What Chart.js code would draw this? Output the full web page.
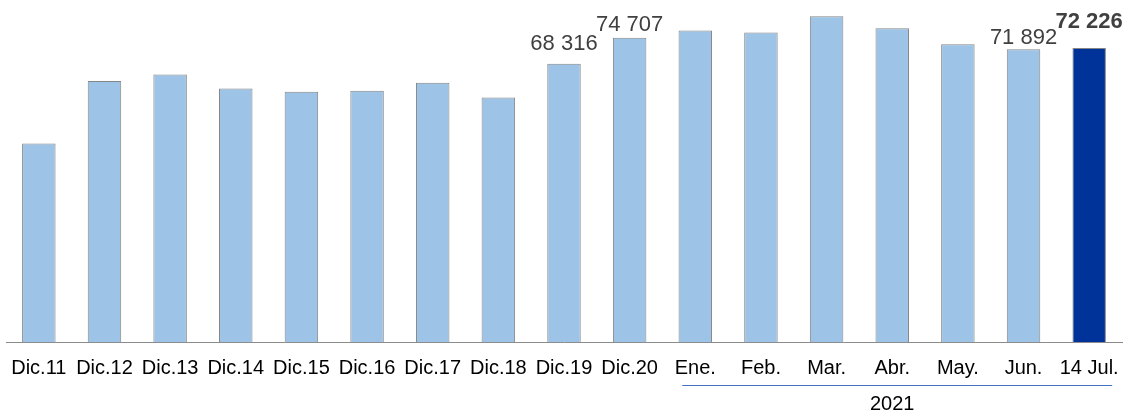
<!DOCTYPE html>
<html>
<head>
<meta charset="utf-8">
<script src="https://cdn.jsdelivr.net/npm/chart.js@4.4.1/dist/chart.umd.min.js"></script>
<style>
  html, body { margin: 0; padding: 0; background: #fff; }
  #wrap { width: 1126px; height: 412px; position: relative; }
</style>
</head>
<body>
<div id="wrap"><canvas id="chart"></canvas></div>
<script>
const categories = ['Dic.11', 'Dic.12', 'Dic.13', 'Dic.14', 'Dic.15', 'Dic.16', 'Dic.17', 'Dic.18', 'Dic.19', 'Dic.20',
                    'Ene.', 'Feb.', 'Mar.', 'Abr.', 'May.', 'Jun.', '14 Jul.'];
const values = [48780, 64080, 65720, 62280, 61450, 61740, 63660, 60070, 68316, 74707,
                76520, 76030, 80030, 77090, 73160, 71892, 72226];
const labelledBars = [8, 9, 15, 16];
const yearLabel = '2021';

const fmt = v => String(v).replace(/\B(?=(\d{3})+(?!\d))/g, ' ');

const barColors = values.map((v, i) => i === values.length - 1 ? '#003399' : '#9dc3e6');

// value labels above a few bars + the 2021 bracket under the months
const extras = {
    id: 'extras',
    afterDatasetsDraw(chart) {
        const ctx = chart.ctx;
        const meta = chart.getDatasetMeta(0);
        const lift = { 8: 20, 9: 13, 15: 11, 16: 26 };
        ctx.save();
        ctx.textAlign = 'center';
        ctx.textBaseline = 'middle';
        labelledBars.forEach(i => {
            const bar = meta.data[i];
            const last = i === values.length - 1;
            ctx.font = (last ? 'bold ' : '') + '22px "Liberation Sans", Arial, sans-serif';
            ctx.fillStyle = '#404040';
            ctx.fillText(fmt(values[i]), bar.x, bar.y - lift[i]);
        });

        const x = chart.scales.x;
        const x0 = x.getPixelForValue(10) - 13;
        const x1 = x.getPixelForValue(16) + 23;
        ctx.strokeStyle = '#4472c4';
        ctx.lineWidth = 1;
        ctx.beginPath();
        ctx.moveTo(x0, 385.5);
        ctx.lineTo(x1, 385.5);
        ctx.stroke();
        ctx.font = '20px "Liberation Sans", Arial, sans-serif';
        ctx.fillStyle = '#000';
        ctx.fillText(yearLabel, (x.getPixelForValue(10) + x.getPixelForValue(16)) / 2, 404);
        ctx.restore();
    }
};

new Chart(document.getElementById('chart'), {
    type: 'bar',
    data: {
        labels: categories,
        datasets: [{
            data: values,
            backgroundColor: barColors,
            borderColor: '#858585',
            borderWidth: 1,
            borderSkipped: 'bottom',
            barPercentage: 0.51,
            categoryPercentage: 1
        }]
    },
    options: {
        responsive: true,
        maintainAspectRatio: false,
        animation: false,
        layout: { padding: { left: 6, right: 4, top: 0, bottom: 30 } },
        plugins: { legend: { display: false }, tooltip: { enabled: false } },
        scales: {
            x: {
                // invisible tick marks give the label gap without the side padding that ticks.padding adds
                grid: { display: true, drawOnChartArea: false, drawTicks: true, tickLength: 12, color: 'rgba(0,0,0,0)' },
                border: { display: true, color: '#8c8c8c', width: 1 },
                ticks: {
                    color: '#000',
                    padding: 2,
                    maxRotation: 0,
                    autoSkip: false,
                    font: { family: '"Liberation Sans", Arial, sans-serif', size: 20 }
                }
            },
            y: {
                display: false,
                min: 0,
                max: 84000
            }
        }
    },
    plugins: [extras]
});
</script>
</body>
</html>
